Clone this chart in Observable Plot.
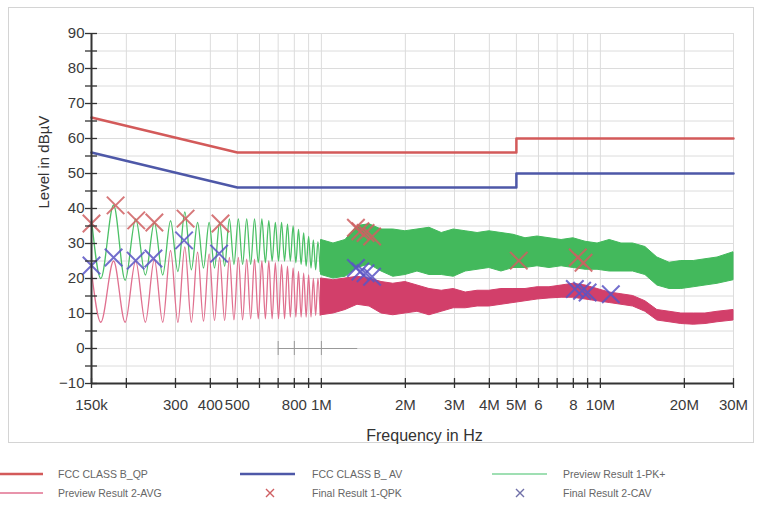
<!DOCTYPE html>
<html>
<head>
<meta charset="utf-8">
<script src="https://cdn.jsdelivr.net/npm/d3@7"></script>
<script src="https://cdn.jsdelivr.net/npm/@observablehq/plot@0.6"></script>
<style>
  body { margin: 0; background: #fff; font-family: "Liberation Sans", Arial, sans-serif; }
  #wrap { position: relative; width: 757px; height: 507px; overflow: hidden; }
  #frame { position: absolute; left: 8px; top: 7px; width: 746px; height: 436px; border: 1px solid #d4d4d4; box-sizing: border-box; }
  #chart { position: absolute; left: 0; top: 0; }
  .lg { position: absolute; font-size: 10.5px; color: #666; white-space: nowrap; line-height: 12px; }
  .sw { position: absolute; }
</style>
</head>
<body>
<div id="wrap">
  <div id="frame"></div>
  <div id="chart"></div>
  <div id="legend"></div>
</div>
<script>
// ---- limit lines ----
const limitF = [150e3, 500e3, 5e6, 5e6, 30e6];
const qpLimit = [66, 56, 56, 60, 60];
const avLimit = [56, 46, 46, 50, 50];

// ---- preview traces, harmonic region (kHz): start, then trough/peak alternation ----
const lowF = [150,162,180,198,216,234,252,270,288,306,324,342,360,378,396,414,432,450,468,486,504,522,540,558,576,594,612,630,648,666,684,702,720,738,756,774,792,810,828,846,864,882,900,918,936,954,972,990];
const pkLow = [37,20,41,19.5,37,21,36,21,36.5,22,39,22.5,36,23,36,23,36,23.5,37,24,37,24,37,24,37,24.5,37,24.5,36.5,25,36,25,36,25,35.5,25,35,24.5,34,24,33,23.5,32,23,31,22.5,30.5,22];
const avLow = [22,7.5,25,7.5,25,7.5,25.5,7.5,28,7.5,29,7.5,27.5,7.8,27,8,26,8,26,8.2,26,8.2,25.5,8.5,25.5,8.5,25,8.5,25,8.5,24.5,8.5,24,8.5,23.5,9,23,9,22,9,21.5,9,21,9,20,9.5,20,9.5];

// ---- preview traces, dense band region (MHz): envelope low / high ----
const bandF = [1.0,1.105,1.22,1.347,1.488,1.643,1.81,2.0,2.21,2.44,2.70,2.98,3.29,3.63,4.0,4.42,4.88,5.39,5.95,6.57,7.26,8.0,8.85,9.77,10.8,11.9,13.1,14.5,16.0,17.7,19.5,21.6,23.8,26.3,30];
const pkHi = [31,30,31,35,35.5,34,34,33.5,34,34.5,33,34,33.5,33,33.5,33,32.5,31.5,32,31.5,31,31.5,30.5,30,31,30,30,29,26,24.5,25,25,25.5,26,27.5];
const pkLo = [21,20,20.5,23,24,22,20.5,21,22,21,21,20.5,22,22.5,23,22,23,23,23.5,23,23.5,23,22.5,22.5,22,22,22,21,18,17,17,17.5,18,18.5,19.5];
const avHi = [20,19.5,20,20.5,20,19,18.5,19,18,17,16.5,17,16,16.5,16.5,17,17,17,17.5,17.5,18,18.5,18,17,16,15.5,15,13.5,11,10.5,10,10,10,10.5,11];
const avLo = [9.5,10,11,12.5,12,10,9.5,10,10.5,9.5,10.5,11.5,11.5,12,12,12.5,13,13.5,14,14.3,14.5,14.5,14,13.5,13,12.5,12,10.5,8,7.5,7,6.8,7,7.5,8];

// ---- final results ----
const qpF = [150e3,183e3,217e3,252e3,326e3,435e3,1.33e6,1.38e6,1.44e6,1.52e6,5.1e6,8.3e6,8.7e6];
const qpV = [35.7,40.9,36.6,36,37.1,35.7,34.5,33.5,33,32,25.1,26,24.5];
const avF = [150e3,180e3,216e3,250e3,322e3,430e3,1.33e6,1.38e6,1.44e6,1.52e6,8.1e6,8.6e6,9.0e6,10.9e6];
const avV = [23.7,26,25.1,25.7,30.9,27.1,23,22,21.5,20.5,17,16.5,16,15.5];

// ---- axes ----
const xTicks = [150e3,200e3,300e3,400e3,500e3,600e3,700e3,800e3,900e3,1e6,2e6,3e6,4e6,5e6,6e6,7e6,8e6,9e6,10e6,20e6,30e6];
const xLabelTicks = [150e3,300e3,400e3,500e3,800e3,1e6,2e6,3e6,4e6,5e6,6e6,8e6,10e6,20e6,30e6];
const xLabels = ["150k","300","400","500","800","1M","2M","3M","4M","5M","6","8","10M","20M","30M"];
const yMinor = [-10,-5,0,5,10,15,20,25,30,35,40,45,50,55,60,65,70,75,80,85,90];
const yMajor = [-10,0,10,20,30,40,50,60,70,80,90];
const artifactF = [700e3, 800e3, 1e6];

const colors = {
  qp: "#d35a5a", av: "#4e58a8", pk: "#4cc066", avg: "#e0708f",
  pkBand: "#43b95c", avgBand: "#d23f6a", qpMark: "#cf5f62", avMark: "#5a55c4"
};

const limits = limitF.map((f, i) => ({f, qp: qpLimit[i], av: avLimit[i]}));
const low = lowF.map((f, i) => ({f: f * 1e3, pk: pkLow[i], avg: avLow[i]}));
const band = bandF.map((f, i) => ({f: f * 1e6, pkHi: pkHi[i], pkLo: pkLo[i], avHi: avHi[i], avLo: avLo[i]}));
const qp = qpF.map((f, i) => ({f, v: qpV[i]}));
const av = avF.map((f, i) => ({f, v: avV[i]}));
const xLabelData = xLabelTicks.map((t, i) => ({t, s: xLabels[i]}));

const chart = Plot.plot({
  width: 757, height: 450,
  marginLeft: 91, marginRight: 24, marginTop: 33, marginBottom: 67,
  style: {fontFamily: "'Liberation Sans', Arial, sans-serif", background: "transparent", color: "#3a3a3a"},
  x: {type: "log", domain: [150e3, 30e6], label: null},
  y: {domain: [-10, 90], label: null},
  marks: [
    Plot.ruleX(xTicks, {stroke: "#dcdcdc", strokeWidth: 1}),
    Plot.ruleY(yMinor, {stroke: "#dcdcdc", strokeWidth: 1}),
    Plot.ruleY([0], {x1: artifactF[0], x2: 1.35e6, stroke: "#999", strokeWidth: 1}),
    Plot.ruleX(artifactF, {y1: -2, y2: 2, stroke: "#999", strokeWidth: 1}),
    Plot.line(limits, {x: "f", y: "qp", stroke: colors.qp, strokeWidth: 2.5}),
    Plot.line(limits, {x: "f", y: "av", stroke: colors.av, strokeWidth: 2.5}),
    Plot.line(low, {x: "f", y: "pk", stroke: colors.pk, strokeWidth: 1.3, curve: "monotone-x"}),
    Plot.areaY(band, {x: "f", y1: "pkLo", y2: "pkHi", fill: colors.pkBand, stroke: colors.pkBand, strokeWidth: 1}),
    Plot.line(low, {x: "f", y: "avg", stroke: colors.avg, strokeWidth: 1.3, curve: "monotone-x"}),
    Plot.areaY(band, {x: "f", y1: "avLo", y2: "avHi", fill: colors.avgBand, stroke: colors.avgBand, strokeWidth: 1}),
    Plot.dot(qp, {x: "f", y: "v", symbol: "times", r: 8, stroke: colors.qpMark, strokeWidth: 2, strokeOpacity: 0.85}),
    Plot.dot(av, {x: "f", y: "v", symbol: "times", r: 8, stroke: colors.avMark, strokeWidth: 2, strokeOpacity: 0.85}),
    Plot.ruleX([150e3], {stroke: "#333", strokeWidth: 2}),
    Plot.ruleY([-10], {stroke: "#333", strokeWidth: 2}),
    Plot.axisX(xTicks, {tickSize: 10, dy: -5, tickFormat: () => "", stroke: "#333", strokeWidth: 1.3}),
    Plot.text(xLabelData, {x: "t", text: "s", frameAnchor: "bottom", lineAnchor: "middle", dy: 22, fontSize: 15, fill: "#3a3a3a"}),
    Plot.axisY(yMinor, {tickSize: 12, dx: 6, tickFormat: () => "", stroke: "#333", strokeWidth: 1.3}),
    Plot.axisY(yMajor, {tickSize: 0, tickPadding: 7, fontSize: 15, fill: "#3a3a3a"}),
    Plot.text(["Level in dBµV"], {frameAnchor: "left", dx: -47, rotate: -90, fontSize: 15, fill: "#333"}),
    Plot.text(["Frequency in Hz"], {frameAnchor: "bottom", lineAnchor: "middle", dy: 52, dx: 12, fontSize: 16, fill: "#333"})
  ]
});
document.getElementById("chart").appendChild(chart);

// ---- legend (below the plot) ----
const legendItems = [
  {label: "FCC CLASS B_QP", kind: "line", color: colors.qp, w: 2.5, x0: 0, x1: 43, tx: 58, row: 0},
  {label: "FCC CLASS B_ AV", kind: "line", color: colors.av, w: 2.5, x0: 240, x1: 295, tx: 312, row: 0},
  {label: "Preview Result 1-PK+", kind: "line", color: "#7fd49a", w: 1.5, x0: 492, x1: 547, tx: 563, row: 0},
  {label: "Preview Result 2-AVG", kind: "line", color: colors.avg, w: 1.5, x0: 0, x1: 43, tx: 58, row: 1},
  {label: "Final Result 1-QPK", kind: "x", color: colors.qpMark, x0: 270, tx: 312, row: 1},
  {label: "Final Result 2-CAV", kind: "x", color: "#7070a8", x0: 520, tx: 563, row: 1}
];
const rowY = [474, 493];
const legend = document.getElementById("legend");
const ns = "http://www.w3.org/2000/svg";
for (const it of legendItems) {
  const y = rowY[it.row];
  const svg = document.createElementNS(ns, "svg");
  svg.setAttribute("class", "sw");
  if (it.kind === "line") {
    svg.setAttribute("width", it.x1 - it.x0); svg.setAttribute("height", 6);
    svg.style.left = it.x0 + "px"; svg.style.top = (y - 3) + "px";
    const l = document.createElementNS(ns, "line");
    l.setAttribute("x1", 0); l.setAttribute("x2", it.x1 - it.x0);
    l.setAttribute("y1", 3); l.setAttribute("y2", 3);
    l.setAttribute("stroke", it.color); l.setAttribute("stroke-width", it.w);
    svg.appendChild(l);
  } else {
    svg.setAttribute("width", 12); svg.setAttribute("height", 12);
    svg.style.left = (it.x0 - 6) + "px"; svg.style.top = (y - 6) + "px";
    const p = document.createElementNS(ns, "path");
    p.setAttribute("d", "M2,2L10,10M10,2L2,10");
    p.setAttribute("stroke", it.color); p.setAttribute("stroke-width", 1.4); p.setAttribute("fill", "none");
    svg.appendChild(p);
  }
  legend.appendChild(svg);
  const t = document.createElement("div");
  t.className = "lg";
  t.textContent = it.label;
  t.style.left = it.tx + "px"; t.style.top = (y - 6) + "px";
  legend.appendChild(t);
}
</script>
</body>
</html>
